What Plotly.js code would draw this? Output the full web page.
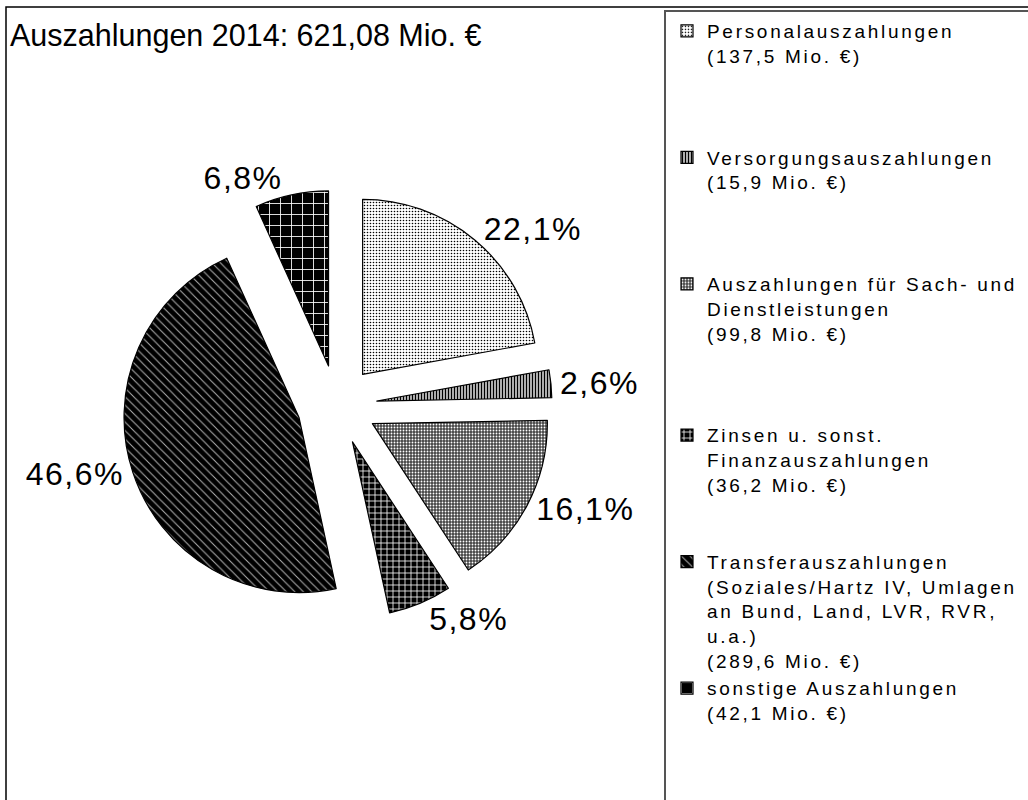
<!DOCTYPE html>
<html>
<head>
<meta charset="utf-8">
<script src="https://cdn.plot.ly/plotly-3.0.1.min.js"></script>
<style>
  html, body { margin: 0; padding: 0; background: #fff; }
  #chart { width: 1028px; height: 800px; }
  .legend .legendtext { letter-spacing: 2.7px; }
  .legend .scrollbox { clip-path: none !important; }
  .slicetext { letter-spacing: 1.5px; }
</style>
</head>
<body>
<div id="chart"></div>
<script>
// ---- data ----
const categories = [
  "Personalauszahlungen",
  "Versorgungsauszahlungen",
  "Auszahlungen für Sach- und<br>Dienstleistungen",
  "Zinsen u. sonst.<br>Finanzauszahlungen",
  "Transferauszahlungen<br>(Soziales/Hartz IV, Umlagen<br>an Bund, Land, LVR, RVR,<br>u.a.)",
  "sonstige Auszahlungen"
];
const valuesMio = [137.5, 15.9, 99.8, 36.2, 289.6, 42.1];
const titleText = "Auszahlungen 2014: 621,08 Mio. €";

// ---- layout helpers (not data) ----
const legendPadLines = [3, 3, 3, 2, 0, 0];
const W = 1028, H = 800;
const cx = 337, cy = 405, radius = 175, pullPx = 40;
const pullFrac = pullPx / radius;
const half = radius * (1 + pullFrac);

function fmt(v) { return v.toFixed(1).replace('.', ','); }
const legendLabels = categories.map((c, i) =>
  c + "<br>(" + fmt(valuesMio[i]) + " Mio. €)" + "<br>\u00a0".repeat(legendPadLines[i])
);

const trace = {
  type: 'pie',
  labels: legendLabels,
  values: valuesMio,
  sort: false,
  direction: 'clockwise',
  rotation: 0,
  pull: pullFrac,
  textposition: 'outside',
  texttemplate: '%{percent:.1%}',
  textfont: { family: 'Liberation Sans, Arial, sans-serif', size: 32, color: '#000' },
  hoverinfo: 'label+value+percent',
  domain: {
    x: [(cx - half) / W, (cx + half) / W],
    y: [1 - (cy + half) / H, 1 - (cy - half) / H]
  },
  marker: {
    colors: ['#ffffff', '#ffffff', '#444444', '#000000', '#000000', '#000000'],
    line: { color: '#000000', width: 1.2 },
    pattern: {
      shape:   ['.', '|', '.', '+', '\\', '+'],
      fgcolor: ['#000000', '#000000', '#ffffff', '#ffffff', '#aaaaaa', '#ffffff'],
      bgcolor: ['#ffffff', '#ffffff', '#444444', '#000000', '#000000', '#000000'],
      size:    [3, 3, 3, 6, 6, 11],
      solidity:[0.22, 0.55, 0.3, 0.25, 0.18, 0.15],
      fillmode: 'replace'
    }
  }
};

const layout = {
  width: W, height: H,
  margin: { l: 0, r: 0, t: 0, b: 0 },
  paper_bgcolor: '#ffffff',
  plot_bgcolor: '#ffffff',
  separators: ',.',
  font: { family: 'Liberation Sans, Arial, sans-serif', color: '#000' },
  title: {
    text: titleText,
    font: { family: 'Liberation Sans, Arial, sans-serif', size: 30.5, color: '#000' },
    x: 10 / W, xanchor: 'left', xref: 'container',
    y: 1 - 35 / H, yanchor: 'middle', yref: 'container'
  },
  showlegend: true,
  legend: {
    x: 667 / W, xanchor: 'left',
    y: 1 - 12 / H, yanchor: 'top',
    valign: 'top',
    bgcolor: 'rgba(0,0,0,0)',
    borderwidth: 0,
    font: { family: 'Liberation Sans, Arial, sans-serif', size: 19, color: '#000' }
  },
  shapes: [
    { type: 'rect', xref: 'paper', yref: 'paper',
      x0: 6 / W, y0: -0.05, x1: 1.05, y1: 1 - 7 / H,
      line: { color: '#000', width: 1.5 }, fillcolor: 'rgba(0,0,0,0)', layer: 'below' },
    { type: 'rect', xref: 'paper', yref: 'paper',
      x0: 665 / W, y0: -0.05, x1: 1.05, y1: 1 - 11 / H,
      line: { color: '#555', width: 2 }, fillcolor: 'rgba(0,0,0,0)', layer: 'below' }
  ]
};

Plotly.newPlot('chart', [trace], layout, { displayModeBar: false, staticPlot: true });
</script>
</body>
</html>
